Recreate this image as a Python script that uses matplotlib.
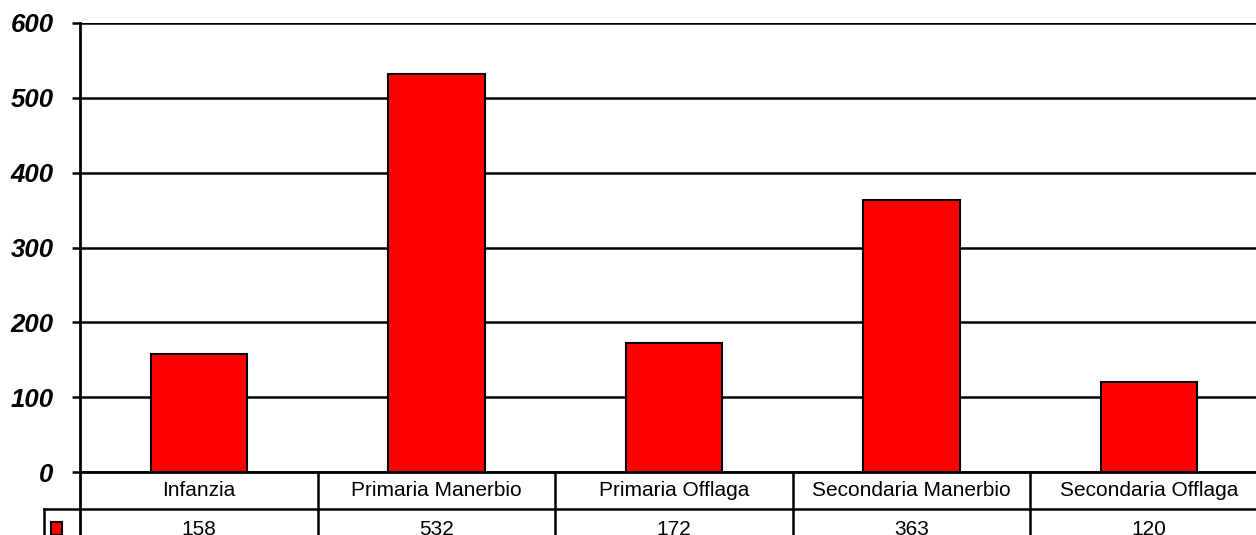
import matplotlib
matplotlib.use("Agg")
import matplotlib.pyplot as plt
from matplotlib.patches import Rectangle
import matplotlib.transforms as mtransforms

categories = ["Infanzia", "Primaria Manerbio", "Primaria Offlaga", "Secondaria Manerbio", "Secondaria Offlaga"]
values = [158, 532, 172, 363, 120]
yticks = [0, 100, 200, 300, 400, 500, 600]

plt.rcParams['font.family'] = ['Liberation Sans', 'DejaVu Sans']

W, H = 1256, 535
fig = plt.figure(figsize=(W / 100, H / 100), dpi=100)
left_px, right_px = 80, 80 + 5 * 237.6
top_px, bottom_px = 23, 472
ax = fig.add_axes([left_px / W, (H - bottom_px) / H, (right_px - left_px) / W, (bottom_px - top_px) / H])

x = list(range(len(categories)))
ax.bar(x, values, width=0.405, color='#ff0000', edgecolor='black', linewidth=1.5, zorder=3)
ax.set_xlim(-0.5, len(categories) - 0.5)
ax.set_ylim(0, 600)
ax.set_yticks(yticks)
ax.set_yticklabels([str(t) for t in yticks], fontsize=18.5, fontweight='bold', fontstyle='italic')
ax.tick_params(axis='y', length=6, width=1.8, pad=13)
ax.set_xticks([])
ax.grid(axis='y', color='black', linewidth=1.8, zorder=1)
for s in ['top', 'right']:
    ax.spines[s].set_visible(False)
ax.spines['left'].set_linewidth(2)
ax.spines['bottom'].set_linewidth(2)
ax.spines['bottom'].set_zorder(4)

# Data table below axes
trans = mtransforms.blended_transform_factory(ax.transData, ax.transAxes)
row_h = 37 / (bottom_px - top_px)
r1 = -row_h
r2 = -2 * row_h
lw = 1.8
leg_left = (44 - left_px) / (right_px - left_px) * 5 - 0.5
ax.plot([leg_left, 4.5], [r1, r1], transform=trans, color='black', lw=lw, clip_on=False)
for b in [-0.5, 0.5, 1.5, 2.5, 3.5]:
    ax.plot([b, b], [0, r2 * 1.5], transform=trans, color='black', lw=lw if b != -0.5 else 2, clip_on=False)
ax.plot([leg_left, leg_left], [r1, r2 * 1.5], transform=trans, color='black', lw=lw, clip_on=False)
for i, (c, v) in enumerate(zip(categories, values)):
    ax.text(i, r1 / 2, c, transform=trans, ha='center', va='center', fontsize=15)
    ax.text(i, r1 * 1.5 - 0.005, str(v), transform=trans, ha='center', va='center', fontsize=15)
# legend key
kx0 = (51 - left_px) / (right_px - left_px) * 5 - 0.5
kx1 = (62 - left_px) / (right_px - left_px) * 5 - 0.5
ky_top = -(522 - bottom_px) / (bottom_px - top_px)
ax.add_patch(Rectangle((kx0, ky_top - 0.03), kx1 - kx0, 0.03,
                       transform=trans, facecolor='#ff0000', edgecolor='black', lw=1.5, clip_on=False))

fig.savefig("out.png", dpi=100)
